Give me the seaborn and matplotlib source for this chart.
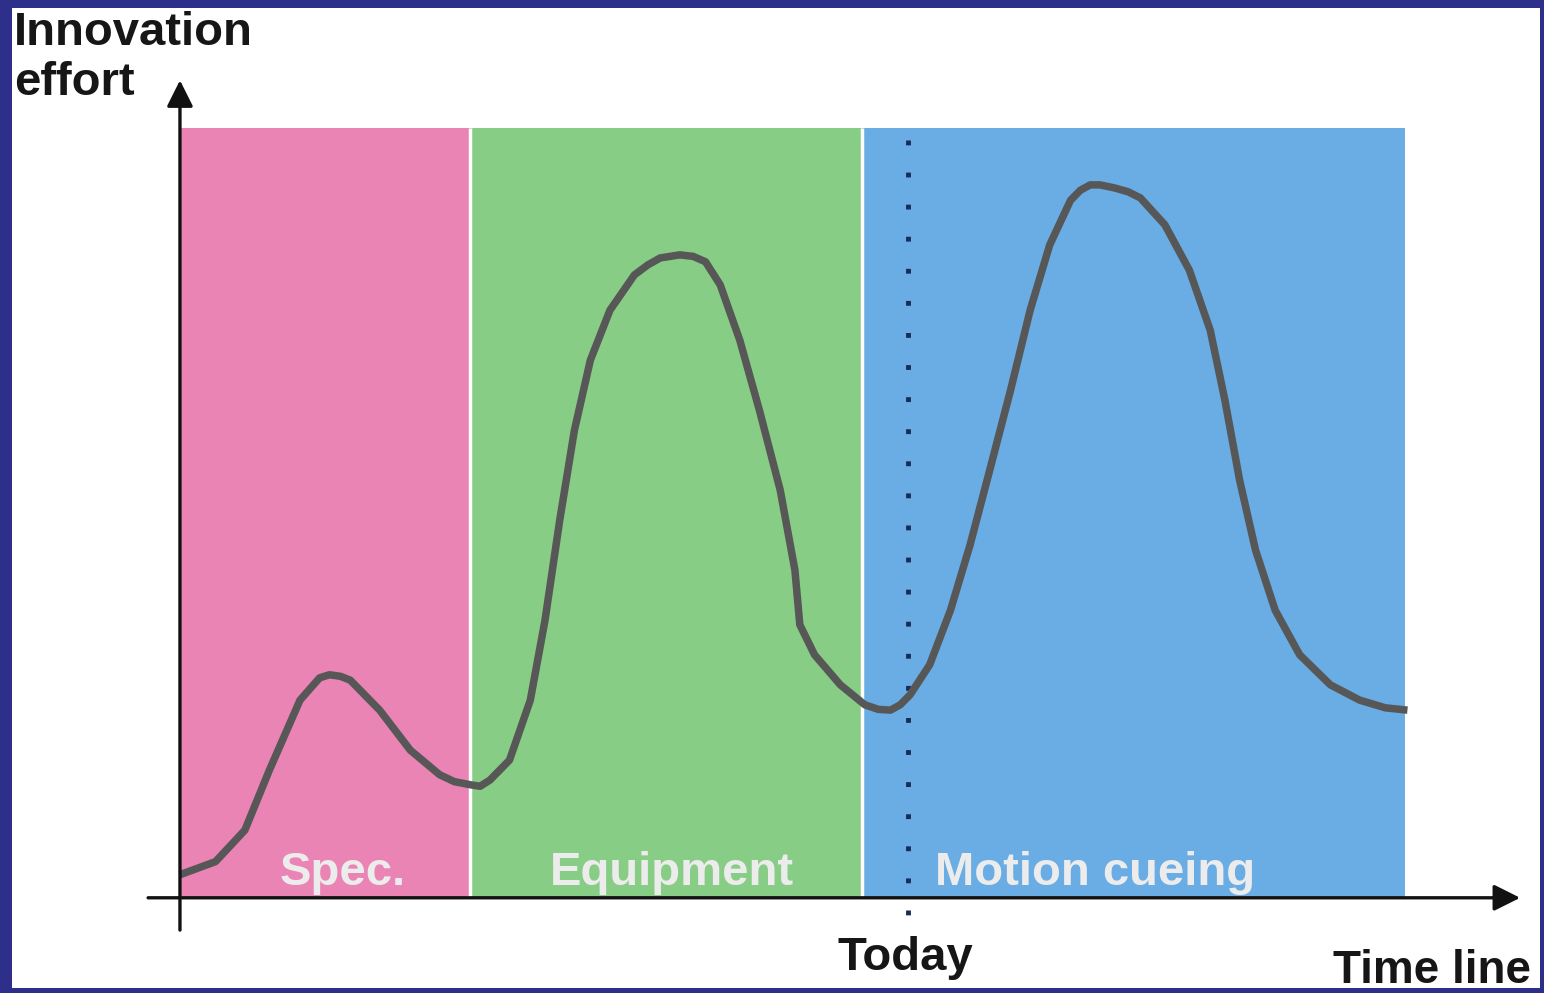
import matplotlib
matplotlib.use("Agg")
import matplotlib.pyplot as plt
import seaborn as sns
import pandas as pd

# phases of the time line (0..100 = start..end of the drawn bands)
phase_names = ["Spec.", "Equipment", "Motion cueing"]
phase_start = [0.0, 23.7, 55.7]
phase_end = [23.7, 55.7, 100.0]
phase_colors = ["#ea84b4", "#88cd85", "#69ade4"]
label_pos = [13.3, 40.2, 74.7]

today = 59.4

# innovation effort curve
time = [0.0, 2.9, 5.3, 7.3, 9.8, 11.4, 12.2, 13.1, 13.9, 16.3, 18.8, 21.2,
        22.4, 23.7, 24.5, 25.3, 26.9, 28.6, 29.8, 31.0, 32.2, 33.5, 35.1,
        37.1, 38.2, 39.2, 40.8, 41.9, 42.9, 44.1, 45.7, 47.3, 49.0, 50.2,
        50.6, 51.8, 53.9, 55.9, 57.0, 58.0, 58.8, 59.6, 61.2, 62.9, 64.5,
        66.1, 67.8, 69.4, 71.0, 72.7, 73.5, 74.3, 75.1, 76.3, 77.4, 78.4,
        80.4, 82.4, 84.1, 85.3, 86.5, 87.8, 89.4, 91.4, 93.9, 96.3, 98.4, 100.2]
effort = [2.9, 4.6, 8.7, 16.5, 25.6, 28.5, 28.9, 28.7, 28.2, 24.3, 19.1, 15.9,
          15.0, 14.6, 14.4, 15.2, 17.8, 25.6, 36.0, 49.0, 60.7, 69.8, 76.3,
          80.9, 82.2, 83.1, 83.5, 83.3, 82.6, 79.6, 72.4, 63.3, 52.9, 42.5,
          35.4, 31.5, 27.6, 25.0, 24.4, 24.3, 25.0, 26.3, 30.2, 37.3, 45.8,
          55.5, 65.9, 76.3, 84.8, 90.6, 91.9, 92.6, 92.6, 92.2, 91.7, 90.9,
          87.4, 81.5, 73.7, 64.6, 54.2, 45.1, 37.3, 31.5, 27.6, 25.6, 24.6, 24.3]

df = pd.DataFrame({"time": time, "effort": effort})

sns.set_style("white")
plt.rcParams["font.family"] = ["Liberation Sans", "DejaVu Sans"]

W, H = 1544, 993
fig = plt.figure(figsize=(W / 100, H / 100), dpi=100, facecolor="#2d2f8a")
ax = fig.add_axes([12 / W, 5 / H, 1528 / W, 980 / H])
ax.set_facecolor("white")
ax.set_xlim(-13.71, 111.02)
ax.set_ylim(-11.83, 115.6)
ax.set_xticks([])
ax.set_yticks([])
for sp in ax.spines.values():
    sp.set_visible(False)

# coloured phase bands, 0..100 high
for s, e, c in zip(phase_start, phase_end, phase_colors):
    ax.fill_between([s, e], 0, 100, facecolor=c, edgecolor="none", zorder=1)
ax.vlines(phase_start[1:], 0, 100, color="white", lw=2.5, zorder=2)

for name, x in zip(phase_names, label_pos):
    ax.text(x, 1.6, name, ha="center", va="baseline", fontsize=34,
            fontweight="bold", color="#ececec", zorder=3)

# today marker
ax.plot([today, today], [98.4, -2.3], color="#1b2a5c", lw=3.5,
        linestyle=(0, (1, 5.6)), solid_capstyle="butt", zorder=4)

# curve
sns.lineplot(data=df, x="time", y="effort", ax=ax, color="#575757", lw=5.4,
             zorder=5, sort=False)
ax.lines[-1].set_solid_joinstyle("round")
ax.lines[-1].set_solid_capstyle("butt")

# axes arrows
ax.annotate("", xy=(0, 106.2), xytext=(0, -4.3),
            arrowprops=dict(arrowstyle="-|>", color="#111111", lw=2.4,
                            mutation_scale=40, shrinkA=0, shrinkB=0), zorder=6)
ax.annotate("", xy=(109.4, -0.1), xytext=(-2.6, -0.1),
            arrowprops=dict(arrowstyle="-|>", color="#111111", lw=2.4,
                            mutation_scale=40, shrinkA=0, shrinkB=0), zorder=6)

ax.text(-13.55, 110.8, "Innovation", ha="left", va="baseline", fontsize=34,
        fontweight="bold", color="#161616")
ax.text(-13.55, 104.3, "effort", ha="left", va="baseline", fontsize=34,
        fontweight="bold", color="#161616")
ax.text(59.2, -9.5, "Today", ha="center", va="baseline", fontsize=34,
        fontweight="bold", color="#161616")
ax.text(94.1, -11.2, "Time line", ha="left", va="baseline", fontsize=33,
        fontweight="bold", color="#161616")

fig.savefig("out.png", dpi=100, facecolor=fig.get_facecolor())
